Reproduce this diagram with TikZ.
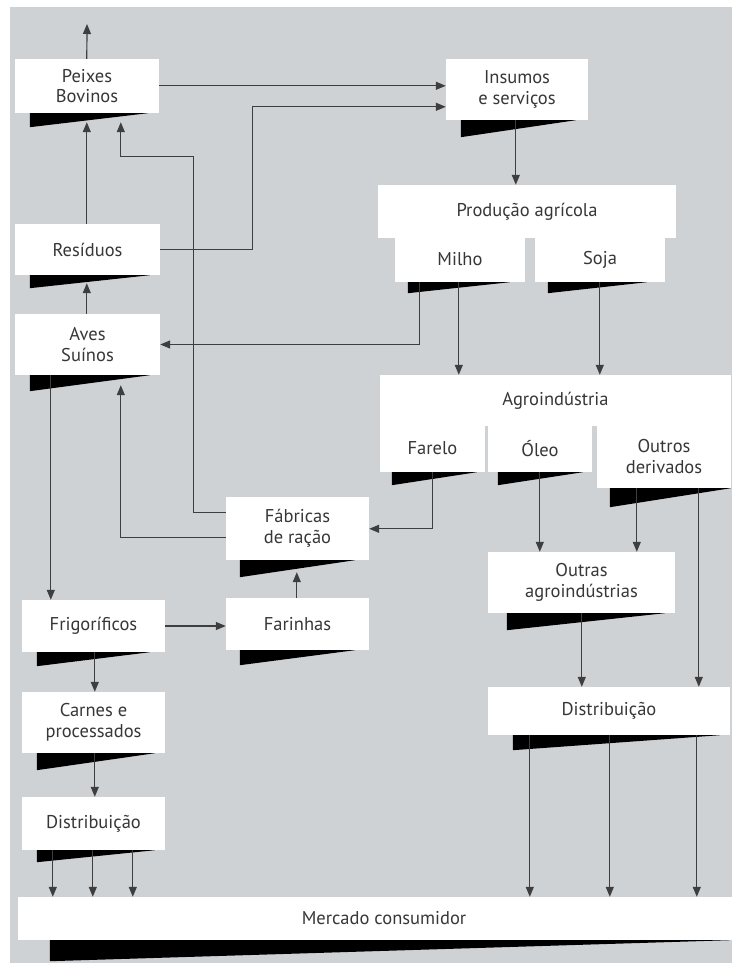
\documentclass[tikz,border=0pt]{standalone}
\usepackage{fontspec}
\setmainfont{PT Sans}
\usetikzlibrary{arrows.meta}
\definecolor{panel}{RGB}{207,210,213}
\definecolor{ink}{RGB}{62,62,62}
\definecolor{txt}{RGB}{55,55,55}

% white box given by left, top, right, bottom (y grows downwards)
\newcommand\blk[6]{%
  \node[box, minimum width={#4pt-#2pt}, minimum height={#5pt-#3pt}]
    (#1) at ({(#2+#4)/2},{(#3+#5)/2}) {#6};}
% black tapering blade under a box: node, left offset, right offset, depth
\newcommand\blade[4]{%
  \fill[black] ([xshift=#2pt]#1.south west) -- ([xshift=#3pt]#1.south west)
    -- ([shift={(#2,#4)}]#1.south west) -- cycle;}

\begin{document}
\begin{tikzpicture}[x=1pt,y=-1pt,
  box/.style={fill=white, draw=none, inner sep=0pt, align=center,
    font=\fontsize{18.5}{20.5}\selectfont, text=txt},
  flow/.style={draw=ink, line width=1.2pt, -{Triangle[length=10pt,width=8pt]}}]

\useasboundingbox (0,0) rectangle (732,963);
\fill[white] (0,0) rectangle (732,963);
\fill[panel] (10,7) rectangle (732,963);

% ---------- boxes ----------
\coordinate (up) at (87,24);
\blk{peixes}{15}{59}{159}{113}{Peixes\\Bovinos}
\blk{insumos}{446}{59}{588}{120}{Insumos\\e serviços}
\blk{residuos}{15}{224}{160}{275}{Resíduos}
\blk{aves}{15}{314}{160}{375}{Aves\\Suínos}
\blk{producao}{378}{185}{676}{238}{Produção agrícola}
\blk{milho}{395}{237}{525}{282}{Milho}
\blk{soja}{535}{237}{665}{282}{Soja}
\blk{agro}{380}{375}{731}{426}{Agroindústria}
\blk{farelo}{380}{425}{485}{472}{Farelo}
\blk{oleo}{488}{425}{592}{472}{Óleo}
\blk{outros}{597}{425}{731}{488}{Outros\\derivados}
\blk{fabricas}{226}{497}{369}{560}{Fábricas\\de ração}
\blk{farinhas}{226}{598}{369}{650}{Farinhas}
\blk{frig}{22}{600}{165}{652}{Frigoríficos}
\blk{carnes}{22}{692}{165}{753}{Carnes e\\processados}
\blk{distL}{22}{797}{165}{850}{Distribuição}
\blk{outras}{488}{552}{675}{613}{Outras\\agroindústrias}
\blk{distR}{488}{687}{730}{735}{Distribuição}
\blk{mercado}{18}{897}{750}{940}{Mercado consumidor}

% blades
\blade{peixes}{15}{133}{14}
\blade{insumos}{15}{130}{17}
\blade{residuos}{15}{135}{13}
\blade{aves}{15}{135}{16}
\blade{milho}{13}{115}{11}
\blade{soja}{13}{112}{11}
\blade{farelo}{12}{97}{13}
\blade{oleo}{10}{95}{13}
\blade{outros}{13}{134}{19}
\blade{fabricas}{14}{129}{17}
\blade{farinhas}{14}{129}{15}
\blade{frig}{15}{128}{14}
\blade{carnes}{15}{133}{17}
\blade{distL}{15}{133}{12}
\blade{outras}{19}{177}{17}
\blade{distR}{25}{232}{15}
\blade{mercado}{32}{712}{21}

% ---------- arrows ----------
\draw[flow] ([xshift=72pt]peixes.north west) -- (up);
\draw[flow] ([yshift=-27pt]peixes.north east) -- ([yshift=-27pt]insumos.north west);
\draw[flow] (residuos.east) -- ++(92,0) |- ([yshift=-48pt]insumos.north west);
\draw[flow] ([yshift=-16pt]fabricas.north west) -- ++(-32,0) -- ++(0,-356)
  -| ([shift={(106,9)}]peixes.south west);
\draw[flow] ([xshift=72pt]residuos.north west) -- ([shift={(72,9)}]peixes.south west);
\draw[flow] ([xshift=72pt]aves.north west) -- ([shift={(72,8)}]residuos.south west);
\draw[flow] ([yshift=-41pt]fabricas.north west) -| ([shift={(106,10)}]aves.south west);
\draw[flow] ([xshift=25pt]milho.south west) |- (aves.east);
\draw[flow] ([xshift=64pt]milho.south west) -- ([xshift=79pt]agro.north west);
\draw[flow] ([xshift=65pt]soja.south west) -- ([xshift=220pt]agro.north west);
\draw[flow] ([xshift=70pt]insumos.south west) -- ([xshift=138pt]producao.north west);
\draw[flow] ([xshift=36pt]aves.south west) -- ([xshift=29pt]frig.north west);
\draw[flow] ([xshift=53pt]farelo.south west) |- ([yshift=-32pt]fabricas.north east);
\draw[flow] (frig.east) -- (farinhas.west |- frig.east);
\draw[flow] ([xshift=71pt]farinhas.north west) -- ([shift={(71,12)}]fabricas.south west);
\draw[flow] ([xshift=73pt]frig.south west) -- ([xshift=73pt]carnes.north west);
\draw[flow] ([xshift=73pt]carnes.south west) -- ([xshift=73pt]distL.north west);
\foreach \a/\b in {31/35, 71/75, 111/115}
  \draw[flow] ([xshift=\a pt]distL.south west) -- ([xshift=\b pt]mercado.north west);
\draw[flow] ([xshift=52pt]oleo.south west) -- ([xshift=52pt]outras.north west);
\draw[flow] ([xshift=40pt]outros.south west) -- ([xshift=149pt]outras.north west);
\draw[flow] ([xshift=102pt]outros.south west) -- ([xshift=211pt]distR.north west);
\draw[flow] ([xshift=94pt]outras.south west) -- ([xshift=94pt]distR.north west);
\foreach \a/\b in {42/512, 122/592, 209/679}
  \draw[flow] ([xshift=\a pt]distR.south west) -- ([xshift=\b pt]mercado.north west);
\end{tikzpicture}
\end{document}
